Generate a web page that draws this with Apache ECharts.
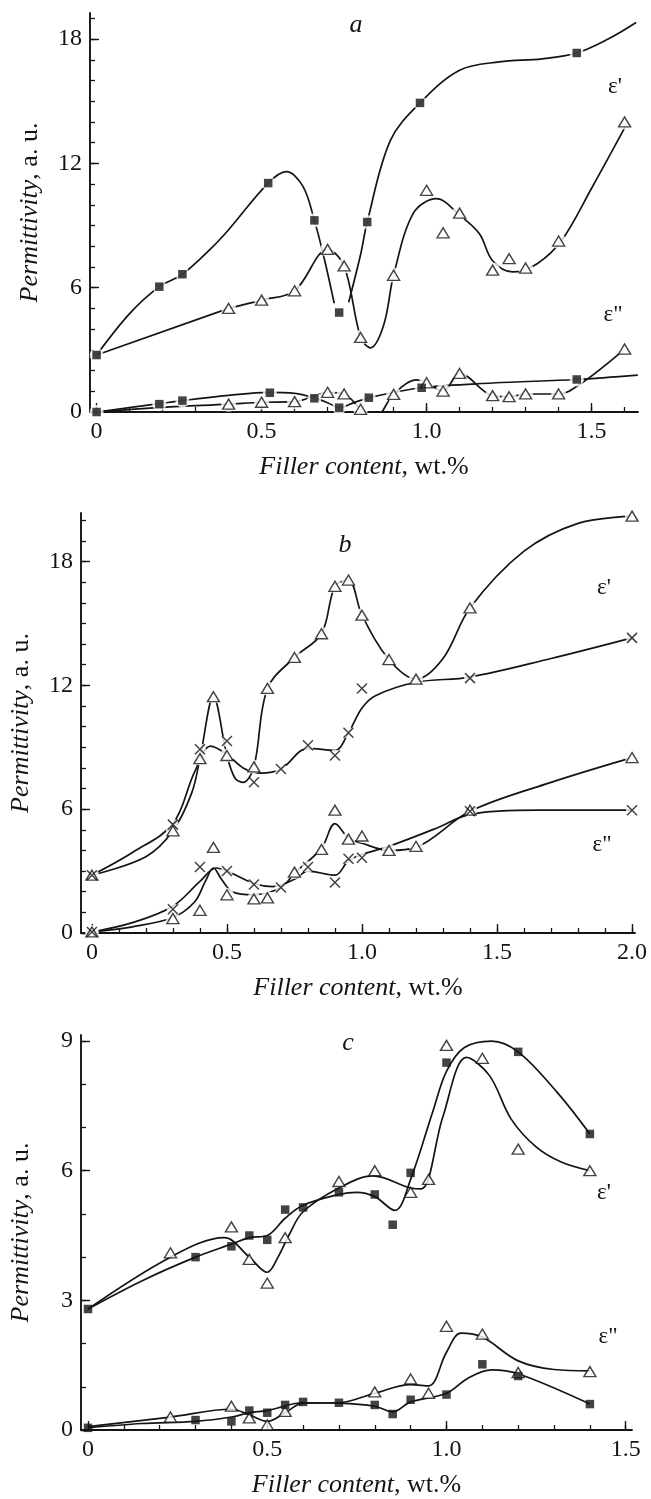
<!DOCTYPE html>
<html><head><meta charset="utf-8">
<script src="https://cdn.jsdelivr.net/npm/echarts@6/dist/echarts.min.js"></script>
<style>html,body{margin:0;padding:0;background:#fff}#c{width:651px;height:1499px}</style>
</head><body><div id="c"></div>
<script>
// ---------- tick labels ----------
const aXTicks = [0, 0.5, 1.0, 1.5];
const bXTicks = [0, 0.5, 1.0, 1.5, 2.0];
const cXTicks = [0, 0.5, 1.0, 1.5];
const aYTicks = [0, 6, 12, 18];
const bYTicks = [0, 6, 12, 18];
const cYTicks = [0, 3, 6, 9];

// ---------- panel a : markers ----------
const aEps1Squares = [[0,2.75],[0.19,6.05],[0.26,6.65],[0.52,11.05],[0.66,9.25],[0.735,4.8],[0.82,9.17],[0.98,14.92],[1.455,17.33]];
const aEps1Triangles = [[0.4,5.0],[0.5,5.4],[0.6,5.85],[0.7,7.85],[0.75,7.05],[0.8,3.6],[0.9,6.6],[1.0,10.7],[1.05,8.65],[1.1,9.6],[1.2,6.85],[1.25,7.4],[1.3,6.95],[1.4,8.25],[1.6,14.0]];
const aEps2Squares = [[0,0],[0.19,0.38],[0.26,0.55],[0.525,0.93],[0.66,0.66],[0.735,0.21],[0.825,0.69],[0.985,1.17],[1.455,1.57]];
const aEps2Triangles = [[0.4,0.38],[0.5,0.47],[0.6,0.5],[0.7,0.95],[0.75,0.87],[0.8,0.13],[0.9,0.85],[1.0,1.41],[1.05,1.01],[1.1,1.86],[1.2,0.79],[1.25,0.74],[1.3,0.87],[1.4,0.87],[1.6,3.04]];
// ---------- panel a : fitted curves ----------
const aEps1SquaresCurve = [
  [[0,2.75],[0.1,4.75],[0.19,6.05],[0.26,6.65],[0.35,7.95],[0.4,8.8],[0.52,11.05],[0.575,11.6],[0.625,10.9],[0.66,9.25],[0.69,7.4],[0.72,5.25]],
  [[0.764,5.3],[0.8,7.6],[0.82,9.17],[0.89,13.1],[0.98,14.92],[1.1,16.5],[1.22,16.9],[1.35,17.05],[1.455,17.33],[1.55,18.0],[1.635,18.8]]
];
const aEps1TrianglesCurve = [
  [[0,2.75],[0.4,5.0]],
  [[0.4,5.0],[0.5,5.4],[0.6,5.85],[0.7,7.85],[0.75,7.05],[0.8,3.6],[0.83,3.1],[0.87,4.2],[0.9,6.6],[0.96,9.6],[1.03,10.3],[1.1,9.5],[1.16,8.6],[1.2,7.3],[1.26,6.76],[1.335,7.16],[1.41,8.3],[1.5,10.8],[1.61,14.0]]
];
const aEps2SquaresCurve = [
  [[0,0],[0.19,0.4],[0.26,0.55],[0.4,0.8],[0.52,0.95],[0.6,0.9],[0.66,0.68],[0.7,0.45],[0.735,0.21],[0.78,0.45],[0.825,0.69],[0.985,1.17],[1.2,1.4],[1.455,1.57],[1.64,1.78]]
];
const aEps2TrianglesCurve = [
  [[0,0],[0.2,0.22],[0.4,0.38],[0.5,0.47],[0.6,0.5],[0.7,0.95],[0.75,0.87],[0.8,0.13],[0.84,-0.35],[0.9,0.85],[0.97,1.55],[1.0,1.41],[1.05,1.01],[1.1,1.86],[1.2,0.79],[1.25,0.74],[1.3,0.87],[1.4,0.87],[1.47,1.4],[1.6,3.04]]
];

// ---------- panel b : markers ----------
const bEps1Triangles = [[0,2.8],[0.3,4.95],[0.4,8.45],[0.45,11.45],[0.5,8.6],[0.6,8.05],[0.65,11.85],[0.75,13.35],[0.85,14.5],[0.9,16.8],[0.95,17.1],[1.0,15.4],[1.1,13.25],[1.2,12.3],[1.4,15.75],[2.0,20.2]];
const bEps1Crosses = [[0,2.8],[0.3,5.25],[0.4,8.9],[0.5,9.3],[0.6,7.3],[0.7,7.95],[0.8,9.1],[0.9,8.6],[0.95,9.7],[1.0,11.85],[1.4,12.35],[2.0,14.3]];
const bEps2Triangles = [[0,0.05],[0.3,0.7],[0.4,1.1],[0.45,4.15],[0.5,1.85],[0.6,1.65],[0.65,1.7],[0.75,2.95],[0.85,4.05],[0.9,5.95],[0.95,4.55],[1.0,4.7],[1.1,4.0],[1.2,4.2],[1.4,5.95],[2.0,8.5]];
const bEps2Crosses = [[0,0.05],[0.3,1.15],[0.4,3.2],[0.5,3.0],[0.6,2.35],[0.7,2.2],[0.8,3.2],[0.9,2.45],[0.95,3.6],[1.0,3.65],[1.4,5.9],[2.0,5.95]];
// ---------- panel b : curves ----------
const bEps1TrianglesCurve = [
  [[0,2.8],[0.2,3.7],[0.3,4.95],[0.37,6.8],[0.4,8.45],[0.45,11.45],[0.5,8.6],[0.53,7.5],[0.56,7.3],[0.6,8.05],[0.65,11.85],[0.75,13.35],[0.85,14.5],[0.9,16.8],[0.95,17.1],[1.0,15.4],[1.1,13.25],[1.2,12.3],[1.3,13.3],[1.4,15.75],[1.6,18.5],[1.8,19.85],[2.0,20.2]]
];
const bEps1CrossesCurve = [
  [[0,2.8],[0.15,3.9],[0.3,5.3],[0.38,7.8],[0.44,9.05],[0.5,8.65],[0.56,8.0],[0.625,7.75],[0.7,7.95],[0.8,8.95],[0.9,8.85],[0.95,9.7],[1.0,10.9],[1.05,11.5],[1.2,12.15],[1.4,12.4],[1.7,13.3],[2.0,14.3]]
];
const bEps2TrianglesCurve = [
  [[0,0.05],[0.15,0.3],[0.3,0.75],[0.38,1.5],[0.42,2.5],[0.45,3.15],[0.48,2.6],[0.52,2.0],[0.6,1.85],[0.7,2.2],[0.75,2.9],[0.85,4.1],[0.9,5.3],[0.95,4.6],[1.0,4.35],[1.1,4.0],[1.2,4.15],[1.4,5.9],[1.7,7.3],[2.0,8.5]]
];
const bEps2CrossesCurve = [
  [[0,0.05],[0.15,0.5],[0.3,1.3],[0.4,2.5],[0.46,3.15],[0.5,3.0],[0.6,2.4],[0.67,2.25],[0.75,2.6],[0.8,3.0],[0.9,2.8],[0.95,3.5],[1.0,3.8],[1.1,4.2],[1.28,5.1],[1.4,5.75],[1.65,5.95],[2.0,5.95]]
];

// ---------- panel c : markers ----------
const cEps1Squares = [[0,2.8],[0.3,4.0],[0.4,4.25],[0.45,4.5],[0.5,4.4],[0.55,5.1],[0.6,5.15],[0.7,5.5],[0.8,5.45],[0.85,4.75],[0.9,5.95],[1.0,8.5],[1.1,9.15],[1.2,8.75],[1.4,6.85]];
const cEps1Triangles = [[0.23,4.1],[0.4,4.7],[0.45,3.95],[0.5,3.4],[0.55,4.45],[0.7,5.75],[0.8,6.0],[0.9,5.5],[0.95,5.8],[1.0,8.9],[1.1,8.6],[1.2,6.5],[1.4,6.0]];
const cEps2Squares = [[0,0.05],[0.3,0.23],[0.4,0.2],[0.45,0.45],[0.5,0.4],[0.55,0.58],[0.6,0.65],[0.7,0.63],[0.8,0.58],[0.85,0.37],[0.9,0.7],[1.0,0.82],[1.1,1.52],[1.2,1.25],[1.4,0.6]];
const cEps2Triangles = [[0.23,0.3],[0.4,0.55],[0.45,0.28],[0.5,0.12],[0.55,0.43],[0.8,0.88],[0.9,1.18],[0.95,0.85],[1.0,2.4],[1.1,2.22],[1.2,1.33],[1.4,1.35]];
// ---------- panel c : curves ----------
const cEps1SquaresCurve = [
  [[0,2.8],[0.15,3.45],[0.3,4.0],[0.4,4.3],[0.45,4.45],[0.5,4.5],[0.55,4.9],[0.6,5.2],[0.7,5.45],[0.75,5.5],[0.8,5.4],[0.856,5.08],[0.9,5.8],[0.963,7.4],[1.0,8.3],[1.05,8.85],[1.126,9.0],[1.2,8.75],[1.31,7.8],[1.4,6.85]]
];
const cEps1TrianglesCurve = [
  [[0,2.8],[0.23,4.0],[0.38,4.45],[0.45,4.0],[0.5,3.65],[0.53,4.0],[0.56,4.5],[0.6,5.05],[0.7,5.6],[0.795,5.88],[0.9,5.6],[0.93,5.58],[0.99,7.25],[1.056,8.62],[1.12,8.2],[1.18,7.2],[1.25,6.55],[1.32,6.2],[1.4,6.0]]
];
const cEps2SquaresCurve = [
  [[0,0.05],[0.15,0.15],[0.3,0.2],[0.4,0.3],[0.45,0.4],[0.5,0.45],[0.6,0.63],[0.7,0.62],[0.8,0.55],[0.85,0.42],[0.9,0.65],[1.0,0.85],[1.06,1.2],[1.126,1.39],[1.2,1.3],[1.4,0.6]]
];
const cEps2TrianglesCurve = [
  [[0,0.08],[0.23,0.3],[0.4,0.48],[0.45,0.35],[0.5,0.2],[0.55,0.4],[0.6,0.62],[0.7,0.63],[0.8,0.85],[0.9,1.05],[0.95,1.02],[1.0,1.8],[1.04,2.24],[1.1,2.15],[1.2,1.6],[1.3,1.4],[1.4,1.37]]
];

// ---------- layout ----------
const FONT = 'Liberation Serif';
const INK = '#141414';
const panels = [
  {grid:{left:90, top:13, width:548, height:399}, xmin:-0.02, xmax:1.6406, ymax:19.26, xt:aXTicks, yt:aYTicks, xstep:0.1, ystep:1},
  {grid:{left:77, top:513, width:558, height:420}, xmin:-0.0404, xmax:2.011, ymax:20.35, xt:bXTicks, yt:bYTicks, xstep:0.1, ystep:1},
  {grid:{left:81, top:1035, width:551, height:396}, xmin:-0.0195, xmax:1.5175, ymax:9.14, xt:cXTicks, yt:cYTicks, xstep:0.1, ystep:1}
];

function minorTicks(lo, hi, step){
  const out=[]; for(let k=Math.ceil(lo/step-1e-9); k*step<=hi+1e-9; k++){ out.push(+(k*step).toFixed(4)); } return out;
}

const grids=[], xAxes=[], yAxes=[], series=[];
const nameRich = {
  i:{fontFamily:FONT, fontStyle:'italic', fontSize:26, color:INK},
  n:{fontFamily:FONT, fontSize:26, color:INK}
};
panels.forEach((p,i)=>{
  grids.push(Object.assign({containLabel:false}, p.grid));
  xAxes.push({
    gridIndex:i, type:'value', position:'bottom', min:p.xmin, max:p.xmax,
    axisLine:{show:true, onZero:false, lineStyle:{color:INK, width:1.9}},
    axisTick:{show:true, inside:true, length:9, customValues:p.xt, lineStyle:{color:INK, width:1.4}},
    axisLabel:{customValues:p.xt, formatter:v=> v===0?'0':v.toFixed(1), fontFamily:FONT, fontSize:24, color:INK, margin:8},
    splitLine:{show:false},
    name:'{i|Filler content}{n|, wt.%}', nameLocation:'middle', nameGap:42,
    nameTextStyle:{rich:nameRich}
  });
  xAxes.push({
    gridIndex:i, type:'value', position:'bottom', offset:0, min:p.xmin, max:p.xmax,
    axisLine:{show:false, onZero:false}, axisLabel:{show:false}, splitLine:{show:false},
    axisTick:{show:true, inside:true, length:5, customValues:minorTicks(0,p.xmax,p.xstep), lineStyle:{color:INK, width:1.3}}
  });
  yAxes.push({
    gridIndex:i, type:'value', position:'left', min:0, max:p.ymax,
    axisLine:{show:true, onZero:false, lineStyle:{color:INK, width:1.9}},
    axisTick:{show:true, inside:true, length:9, customValues:p.yt, lineStyle:{color:INK, width:1.4}},
    axisLabel:{customValues:p.yt, formatter:v=>String(v), fontFamily:FONT, fontSize:24, color:INK, margin:8},
    splitLine:{show:false},
    name:'{i|Permittivity}{n|, a. u.}', nameLocation:'middle', nameGap:47,
    nameTextStyle:{rich:nameRich}
  });
  yAxes.push({
    gridIndex:i, type:'value', position:'left', offset:0, min:0, max:p.ymax,
    axisLine:{show:false, onZero:false}, axisLabel:{show:false}, splitLine:{show:false},
    axisTick:{show:true, inside:true, length:5, customValues:minorTicks(0,p.ymax,p.ystep), lineStyle:{color:INK, width:1.3}}
  });
});

function addCurve(pi, segs){
  segs.forEach(seg=>{
    series.push({type:'line', xAxisIndex:pi*2, yAxisIndex:pi*2, data:seg, smooth:seg.length>2?0.35:false,
      symbol:'none', showSymbol:false, clip:true, silent:true, z:2,
      lineStyle:{color:INK, width:1.7}});
  });
}
const KINDS = {
  square:{symbol:'rect', symbolSize:8.5, itemStyle:{color:INK}},
  triangle:{symbol:'triangle', symbolSize:[12,10], itemStyle:{color:'#fff', borderColor:INK, borderWidth:1.4}},
  cross:{symbol:'path://M0,0L10,10M10,0L0,10', symbolSize:10, itemStyle:{color:'none', borderColor:INK, borderWidth:1.5}}
};
function addMarkers(pi, pts, kind, halo){
  if(halo){
    series.push({type:'scatter', xAxisIndex:pi*2, yAxisIndex:pi*2, data:pts, symbol:'circle',
      symbolSize:halo, itemStyle:{color:'#fff'}, silent:true, z:3});
  }
  const k = KINDS[kind];
  series.push({type:'scatter', xAxisIndex:pi*2, yAxisIndex:pi*2, data:pts, symbol:k.symbol,
    symbolSize:k.symbolSize, itemStyle:k.itemStyle, silent:true, z:4});
}

// panel a
addCurve(0, aEps1SquaresCurve); addCurve(0, aEps1TrianglesCurve);
addCurve(0, aEps2SquaresCurve); addCurve(0, aEps2TrianglesCurve);
addMarkers(0, aEps1Triangles, 'triangle', 15); addMarkers(0, aEps2Triangles, 'triangle', 15);
addMarkers(0, aEps1Squares, 'square', 14); addMarkers(0, aEps2Squares, 'square', 14);
// panel b
addCurve(1, bEps1TrianglesCurve); addCurve(1, bEps1CrossesCurve);
addCurve(1, bEps2TrianglesCurve); addCurve(1, bEps2CrossesCurve);
addMarkers(1, bEps1Triangles, 'triangle', 14); addMarkers(1, bEps2Triangles, 'triangle', 14);
addMarkers(1, bEps1Crosses, 'cross', 12); addMarkers(1, bEps2Crosses, 'cross', 12);
// panel c
addCurve(2, cEps1SquaresCurve); addCurve(2, cEps1TrianglesCurve);
addCurve(2, cEps2SquaresCurve); addCurve(2, cEps2TrianglesCurve);
addMarkers(2, cEps1Triangles, 'triangle', 0); addMarkers(2, cEps2Triangles, 'triangle', 0);
addMarkers(2, cEps1Squares, 'square', 0); addMarkers(2, cEps2Squares, 'square', 0);

function txt(x, y, s, size, italic){
  return {type:'text', x:x, y:y, z:10, style:{text:s, fontFamily:FONT, fontSize:size,
    fontStyle:italic?'italic':'normal', fill:INK, textAlign:'center', textVerticalAlign:'middle'}};
}
const graphics = [
  txt(356, 25, 'a', 26, true), txt(345, 545, 'b', 26, true), txt(348, 1043, 'c', 26, true),
  txt(615, 87, "ε'", 23, false), txt(613, 315, 'ε"', 23, false),
  txt(604, 588, "ε'", 23, false), txt(602, 845, 'ε"', 23, false),
  txt(604, 1193, "ε'", 23, false), txt(608, 1337, 'ε"', 23, false)
];

const chart = echarts.init(document.getElementById('c'), null, {renderer:'canvas'});
chart.setOption({
  animation:false, backgroundColor:'#fff',
  grid:grids, xAxis:xAxes, yAxis:yAxes, series:series, graphic:graphics
});
</script>
</body></html>
